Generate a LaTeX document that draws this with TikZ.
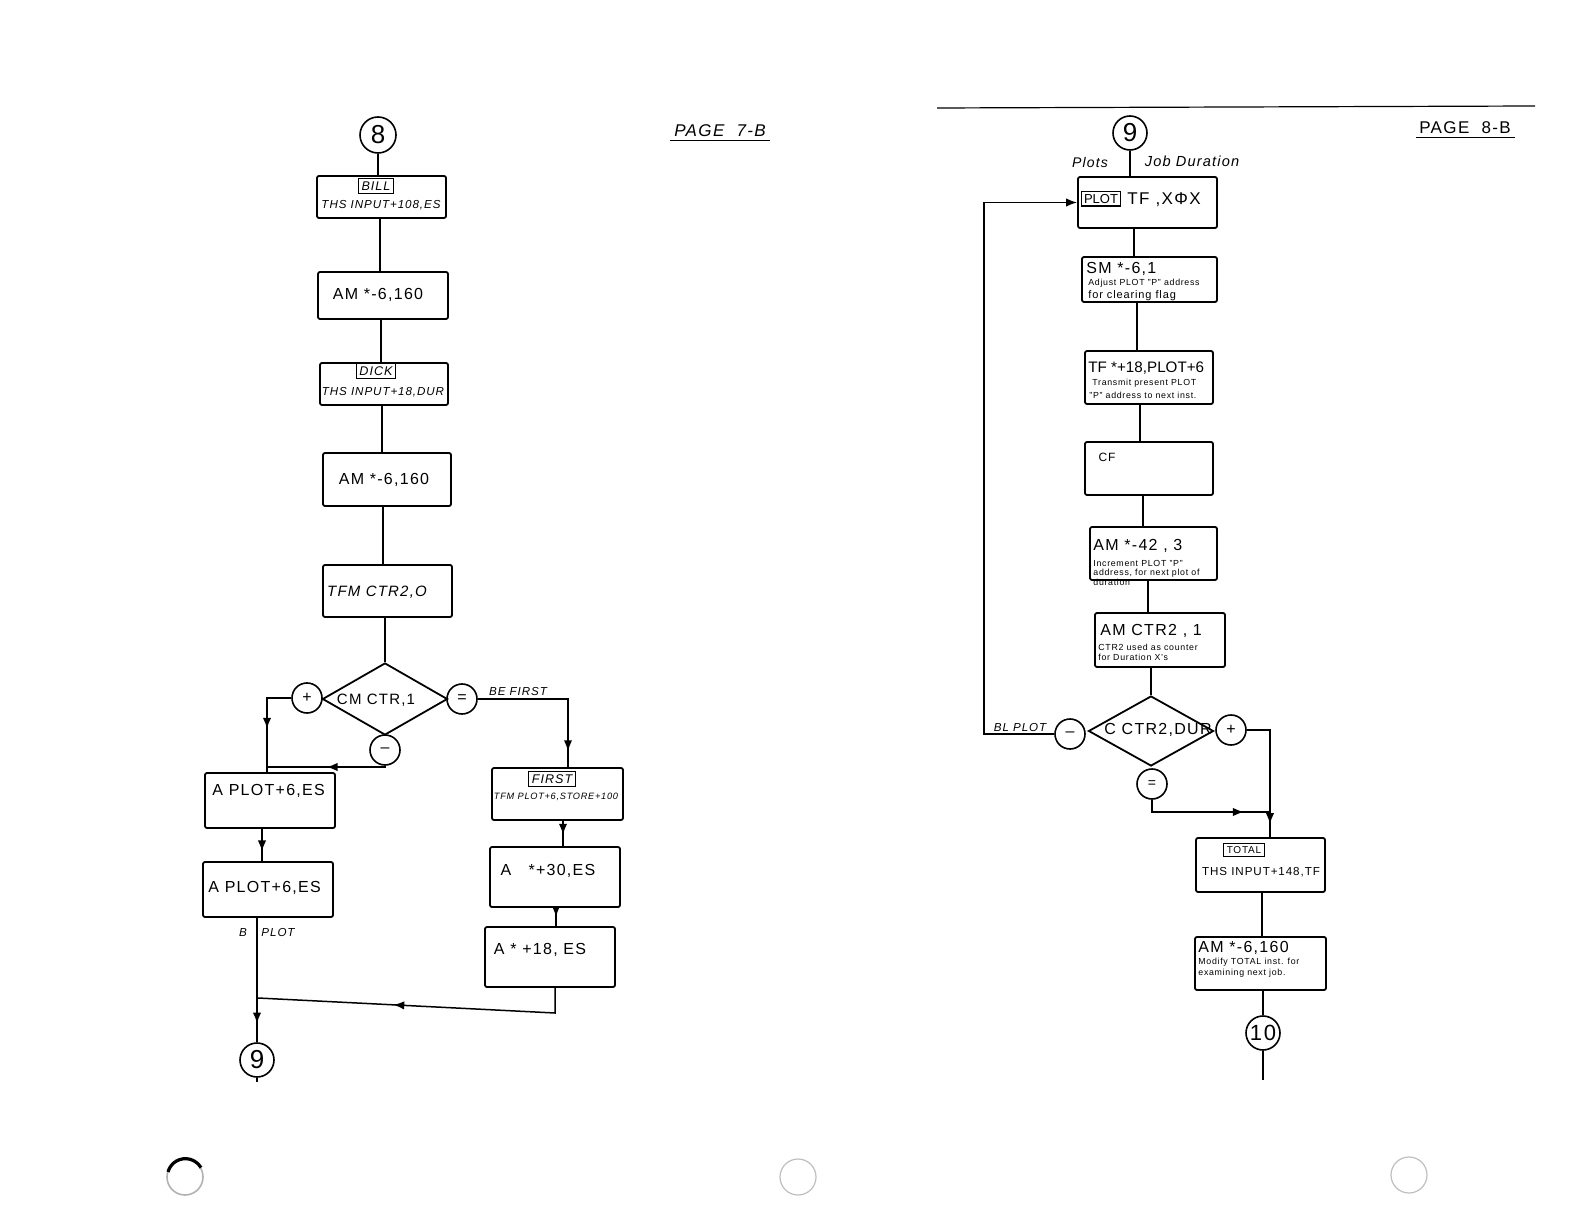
\documentclass[tikz,border=0pt]{standalone}
\usepackage{fontspec}
\setmainfont{Liberation Sans}[LetterSpace=8]
\newfontfamily\plainsans{Liberation Sans}
\usetikzlibrary{shapes.geometric,arrows.meta,decorations.markings,fit,calc}
\begin{document}
\begin{tikzpicture}[x=0.5pt,y=-0.5pt,
  box/.style={draw,line width=0.9pt,inner sep=0pt,rounded corners=1pt},
  lab/.style={draw,line width=0.7pt,inner sep=1.5pt,font=\fontsize{6.3}{7}\selectfont\itshape},
  big/.style={font=\fontsize{8}{9}\selectfont,inner sep=0pt},
  mid/.style={font=\fontsize{5.8}{7}\selectfont\itshape,inner sep=0pt},
  tiny/.style={font=\fontsize{4.4}{5}\selectfont,inner sep=0pt},
  num/.style={font=\fontsize{13}{13}\selectfont},
  conn/.style={line width=0.75pt},
  circ/.style={draw,circle,line width=0.8pt,inner sep=0pt,minimum size=#1},
  dia/.style={draw,diamond,line width=0.9pt,inner sep=0pt,minimum width=62.5pt,minimum height=36pt},
  mida/.style={postaction={decorate},decoration={markings,mark=at position #1 with {\arrow{Latex[length=5.5pt,width=4.2pt]}}}},
  mida/.default=0.5
]
\useasboundingbox (0,0) rectangle (1584,1224);
\fill[white] (0,0) rectangle (1584,1224);

% ---------------- page labels and paper marks
\node[font=\fontsize{8.5}{9}\selectfont\itshape,inner sep=0pt] (p7) at (720,131) {PAGE\ \ 7-B};
\draw[line width=0.7pt] (p7.south west)++(-4,3) -- ([xshift=2pt,yshift=-1.5pt]p7.south east);
\node[font=\fontsize{8.5}{9}\selectfont,inner sep=0pt] (p8) at (1465,128) {PAGE\ \ 8-B};
\draw[line width=0.7pt] (p8.south west)++(-3,3) -- ([xshift=2pt,yshift=-1.5pt]p8.south east);
\draw[line width=0.6pt] (937,108) -- (1535,106);
\draw[gray!60,line width=0.8pt] (185,1177) circle[radius=9pt];
\draw[black,line width=1.6pt] (168,1172) arc[start angle=165,end angle=30,radius=9pt];
\draw[gray!50,line width=0.6pt] (798,1177) circle[radius=9pt];
\draw[gray!50,line width=0.6pt] (1409,1175) circle[radius=9pt];

% ---------------- LEFT PAGE
\node[circ=18pt,num] (c8) at (378,135) {8};
\node[box,fit={(317,176)(446,218)}] (bill) {};
\node[lab] (billL) at (376,186) {BILL};
\node[mid] (billT) at (381,205) {THS INPUT+108,ES};
\node[box,fit={(318,272)(448,319)}] (am1) {};
\node[big] (am1T) at (378,295) {AM *-6,160};
\node[box,fit={(320,363)(448,405)}] (dick) {};
\node[lab] (dickL) at (376,371) {DICK};
\node[mid] (dickT) at (383,392) {THS INPUT+18,DUR};
\node[box,fit={(323,453)(451,506)}] (am2) {};
\node[big] (am2T) at (384,480) {AM *-6,160};
\node[box,fit={(323,565)(452,617)}] (tfm) {};
\node[big,font=\fontsize{7.5}{8}\selectfont\itshape] (tfmT) at (377,592) {TFM CTR2,O};

\node[dia] (d1) at (385,699) {};
\node[big,font=\fontsize{7.5}{8}\selectfont] (d1T) at (376,700) {CM CTR,1};
\node[circ=15pt,font=\fontsize{8}{8}\selectfont] (dplus) at (307,698) {+};
\node[circ=15pt,font=\fontsize{8}{8}\selectfont] (deq) at (462,699) {=};
\node[circ=15pt,font=\fontsize{8}{8}\selectfont] (dminus) at (385,750) {–};
\node[mid] (befirst) at (518,692) {BE FIRST};

\node[box,fit={(205,773)(335,828)}] (ap1) {};
\node[big,anchor=west] (ap1T) at (212,791) {A PLOT+6,ES};
\node[box,fit={(203,862)(333,917)}] (ap2) {};
\node[big,anchor=west] (ap2T) at (208,888) {A PLOT+6,ES};
\node[mid] (bL) at (243,933) {B};
\node[mid] (plotL1) at (278,933) {PLOT};
\node[circ=17pt,num] (c9a) at (257,1060) {9};
\coordinate (c9aEnd) at (257,1082);

\node[box,fit={(492,768)(623,820)}] (first) {};
\node[lab] (firstL) at (552,779) {FIRST};
\node[tiny,font=\fontsize{4.6}{5}\selectfont\itshape] (firstT) at (556,797) {TFM PLOT+6,STORE+100};
\node[box,fit={(490,847)(620,907)}] (a30) {};
\node[big] (a30T) at (548,871) {A\ \ \ *+30,ES};
\node[box,fit={(485,927)(615,987)}] (a18) {};
\node[big] (a18T) at (540,950) {A * +18, ES};

\coordinate (jL) at (267,767);
\coordinate (jR) at (555,1013);
\coordinate (jB) at (258,998);

\draw[conn] (c8.south) -- (bill.north -| c8.south);
\draw[conn] (bill.south -| 380,0) -- (am1.north -| 380,0);
\draw[conn] (am1.south -| 381,0) -- (dick.north -| 381,0);
\draw[conn] (dick.south -| 382,0) -- (am2.north -| 382,0);
\draw[conn] (am2.south -| 383,0) -- (tfm.north -| 383,0);
\draw[conn] (tfm.south -| d1.north) -- (d1.north);
\draw[conn,mida=0.56] (dplus.west) -| (ap1.north -| jL);
\draw[conn,mida=0.5] (dminus.south) |- (jL);
\draw[conn,mida=0.9] (deq.east) -| (first.north -| 568,0);
\draw[conn,mida=0.7] (ap1.south -| 262,0) -- (ap2.north -| 262,0);
\draw[conn,mida=0.85] (c9a.north |- ap2.south) -- (c9a.north);
\draw[conn] (c9a.south) -- (c9aEnd);
\draw[conn,mida=0.55] (first.south -| 563,0) -- (a30.north -| 563,0);
\draw[conn,mida=0.5] (a30.south -| 556,0) -- (a18.north -| 556,0);
\draw[conn,mida=0.58] (a18.south -| jR) -- (jR) -- (jB);

% ---------------- RIGHT PAGE
\node[circ=17pt,num] (c9b) at (1130,133) {9};
\node[font=\fontsize{7}{8}\selectfont\itshape,inner sep=0pt] (plots) at (1090,163) {Plots};
\node[font=\fontsize{7.3}{8}\selectfont\itshape,inner sep=0pt] (jobdur) at (1192,161) {Job Duration};
\node[box,fit={(1078,177)(1217,228)}] (plotbox) {};
\node[draw,line width=0.7pt,inner sep=1.3pt,font=\plainsans\fontsize{6.5}{7}\selectfont] (plotL) at (1101,199) {PLOT};
\node[big,font=\fontsize{8.5}{9}\selectfont,anchor=west] (plotT) at (1127,200) {TF ,XΦX};
\node[box,fit={(1082,257)(1217,302)}] (sm) {};
\node[big,anchor=west] (smT) at (1086,269) {SM *-6,1};
\node[tiny,anchor=west] (smT2) at (1088,283) {Adjust PLOT "P" address};
\node[tiny,font=\fontsize{5.5}{6}\selectfont,anchor=west] (smT3) at (1088,296) {for clearing flag};
\node[box,fit={(1085,351)(1213,404)}] (tfb) {};
\node[big,font=\plainsans\fontsize{7.6}{8}\selectfont,anchor=west] (tfT) at (1088,368) {TF *+18,PLOT+6};
\node[tiny,anchor=west] (tfT2) at (1092,383) {Transmit present PLOT};
\node[tiny,anchor=west] (tfT3) at (1089,395) {"P" address to next inst.};
\node[box,fit={(1085,442)(1213,495)}] (cf) {};
\node[big,font=\fontsize{6}{7}\selectfont] (cfT) at (1107,457) {CF};
\node[box,fit={(1090,527)(1217,580)}] (am42) {};
\node[big,anchor=west] (am42T) at (1093,546) {AM *-42 , 3};
\node[tiny,anchor=west] (am42T2) at (1093,563) {Increment PLOT "P"};
\node[tiny,anchor=west] (am42T3) at (1093,573) {address, for next plot of};
\node[tiny,anchor=west] (am42T4) at (1093,582) {duration};
\node[box,fit={(1095,613)(1225,667)}] (amctr) {};
\node[big,anchor=west] (amctrT) at (1100,631) {AM CTR2 , 1};
\node[tiny,anchor=west] (amctrT2) at (1098,647) {CTR2 used as counter};
\node[tiny,anchor=west] (amctrT3) at (1098,657) {for Duration X's};

\node[dia,minimum height=35pt] (d2) at (1151,731) {};
\node[big,font=\fontsize{8}{9}\selectfont] (d2T) at (1158,730) {C CTR2,DUR};
\node[circ=15pt,font=\fontsize{8}{8}\selectfont] (rminus) at (1070,734) {–};
\node[circ=15pt,font=\fontsize{8}{8}\selectfont] (rplus) at (1231,730) {+};
\node[circ=15pt,font=\fontsize{7}{8}\selectfont] (req) at (1152,784) {=};
\node[mid,anchor=south] (blplot) at (1020,732) {BL PLOT};
\coordinate (loopc) at (984,734);
\coordinate (jR2) at (1270,812);

\node[box,fit={(1196,838)(1325,892)}] (total) {};
\node[lab,font=\fontsize{5}{6}\selectfont] (totalL) at (1244,850) {TOTAL};
\node[mid,font=\fontsize{5.8}{7}\selectfont] (totalT) at (1261,872) {THS INPUT+148,TF};
\node[box,fit={(1195,937)(1326,990)}] (am6) {};
\node[big,anchor=west] (am6T) at (1198,948) {AM *-6,160};
\node[tiny,anchor=west] (am6T2) at (1198,962) {Modify TOTAL inst. for};
\node[tiny,anchor=west] (am6T3) at (1198,973) {examining next job.};
\node[circ=17pt,font=\fontsize{11}{11}\selectfont] (c10) at (1263,1033) {10};
\coordinate (c10End) at (1263,1080);

\draw[conn] (c9b.south) -- (plotbox.north -| c9b.south);
\draw[conn] (plotbox.south -| 1134,0) -- (sm.north -| 1134,0);
\draw[conn] (sm.south -| 1137,0) -- (tfb.north -| 1137,0);
\draw[conn] (tfb.south -| 1140,0) -- (cf.north -| 1140,0);
\draw[conn] (cf.south -| 1143,0) -- (am42.north -| 1143,0);
\draw[conn] (am42.south -| 1148,0) -- (amctr.north -| 1148,0);
\draw[conn] (amctr.south -| d2.north) -- (d2.north);
\draw[conn,-{Latex[length=5.5pt,width=4.2pt]}] (rminus.west) -- (loopc) |- (plotbox.west);
\draw[conn,mida=0.9] (rplus.east) -| (total.north -| jR2);
\draw[conn,mida=0.8] (req.south) |- (jR2);
\draw[conn] (total.south -| 1262,0) -- (am6.north -| 1262,0);
\draw[conn] (am6.south -| c10.north) -- (c10.north);
\draw[conn] (c10.south) -- (c10End);
\end{tikzpicture}
\end{document}
